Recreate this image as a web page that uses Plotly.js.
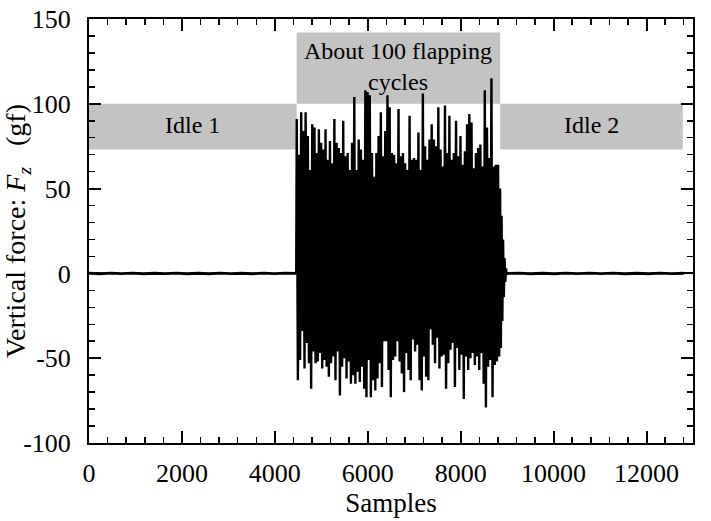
<!DOCTYPE html>
<html>
<head>
<meta charset="utf-8">
<script src="https://cdn.plot.ly/plotly-3.0.1.min.js"></script>
<style>html,body{margin:0;padding:0;background:#fff;}#chart{width:711px;height:521px;}</style>
</head>
<body>
<div id="chart"></div>
<script>
// ---- data ----
const idle1Start = 0, flapStart = 4460, flapEnd = 8840, decayEnd = 9000, idle2End = 12800;
const idle1Values = [0.1, -0.2, 0.2, -0.1, 0.2, -0.2, 0.1, -0.1, 0.2, -0.2, 0.1, -0.2, 0.2, -0.1, 0.1, -0.2, 0.2, -0.1, 0.2, 0];
const idle2Values = [0, 0.2, -0.2, 0.1, -0.2, 0.2, -0.1, 0.2, -0.1, 0.2, -0.2, 0.1, -0.2, 0.2, -0.1, 0.1];
const cycleMax = [91, 70, 95, 84, 95, 81, 61, 88, 86, 71, 85, 77, 73, 85, 67, 78, 65, 91, 77, 74, 71, 90, 69, 71, 61, 77, 104, 61, 79,
  73, 67, 108, 107, 105, 71, 57, 71, 81, 95, 69, 84, 105, 98, 71, 70, 65, 97, 69, 71, 65, 61, 93, 67, 68, 67, 83, 61, 106, 75, 67, 79,
  88, 79, 75, 98, 73, 63, 99, 71, 93, 67, 71, 90, 69, 81, 64, 72, 88, 94, 89, 62, 71, 74, 76, 63, 108, 86, 68, 115, 63, 64, 64];
const cycleMin = [-63, -51, -34, -56, -41, -53, -68, -46, -53, -52, -47, -56, -51, -55, -61, -53, -49, -63, -46, -72, -55, -50, -62, -52, -65, -60, -65, -58, -64, -55,
  -68, -73, -51, -73, -63, -69, -62, -53, -67, -40, -40, -57, -73, -51, -49, -40, -52, -59, -70, -47, -57, -63, -39, -46, -42, -63, -69, -49, -61, -63, -33, -42,
  -53, -38, -56, -49, -48, -68, -53, -45, -41, -67, -44, -57, -48, -74, -49, -57, -50, -47, -54, -49, -57, -47, -65, -79, -55, -51, -73, -54, -52, -49];
const decayMax = [50, 34, 20, 9, 3];
const decayMin = [-44, -28, -14, -5, -1];
const xTicks = [0, 2000, 4000, 6000, 8000, 10000, 12000];
const yTicks = [-100, -50, 0, 50, 100, 150];
const boxLabels = ['Idle 1', 'About 100 flapping<br>cycles', 'Idle 2'];
const boxX0 = [0, 4470, 8850];
const boxX1 = [4470, 8850, 12780];
const boxY0 = [73, 100, 73];
const boxY1 = [100, 142, 100];

// ---- build traces from the arrays ----
const ix1 = [], iy1 = [], ix2 = [], iy2 = [];
idle1Values.forEach((v, i) => { ix1.push(idle1Start + i * (flapStart - idle1Start) / (idle1Values.length - 1)); iy1.push(v); });
idle2Values.forEach((v, i) => { ix2.push(decayEnd + i * (idle2End - decayEnd) / (idle2Values.length - 1)); iy2.push(v); });
const xs = [flapStart], ys = [0];
const n = cycleMax.length;
const per = (flapEnd - flapStart) / n;
for (let i = 0; i < n; i++) {
  xs.push(flapStart + i * per + per * 0.25); ys.push(cycleMax[i]);
  xs.push(flapStart + i * per + per * 0.75); ys.push(cycleMin[i]);
}
const dper = (decayEnd - flapEnd) / decayMax.length;
for (let i = 0; i < decayMax.length; i++) {
  xs.push(flapEnd + i * dper + dper * 0.25); ys.push(decayMax[i]);
  xs.push(flapEnd + i * dper + dper * 0.75); ys.push(decayMin[i]);
}
xs.push(decayEnd); ys.push(0);

const serif = "'Liberation Serif', 'Times New Roman', serif";
const shapes = boxLabels.map((_, i) => ({
  type: 'rect', xref: 'x', yref: 'y', layer: 'below',
  x0: boxX0[i], x1: boxX1[i], y0: boxY0[i], y1: boxY1[i],
  fillcolor: '#c3c3c3', line: {width: 0}
}));
const annotations = boxLabels.map((t, i) => ({
  x: (boxX0[i] + boxX1[i]) / 2, y: (boxY0[i] + boxY1[i]) / 2, xref: 'x', yref: 'y', yshift: 2,
  text: t, showarrow: false, font: {family: serif, size: 24, color: '#000'}
}));

const axisCommon = {
  showline: true, linecolor: '#000', linewidth: 2, mirror: 'allticks',
  ticks: 'inside', ticklen: 12, tickwidth: 2, tickcolor: '#000',
  showgrid: false, zeroline: false,
  tickfont: {family: serif, size: 26, color: '#000'},
  minor: {ticks: 'inside', ticklen: 6, tickwidth: 1.5, tickcolor: '#000', showgrid: false}
};

Plotly.newPlot('chart', [
  {x: ix1, y: iy1, type: 'scatter', mode: 'lines', line: {color: '#000', width: 2.8, simplify: false}, hoverinfo: 'skip'},
  {x: xs, y: ys, type: 'scatter', mode: 'lines', line: {color: '#000', width: 2.4, simplify: false}, hoverinfo: 'skip'},
  {x: ix2, y: iy2, type: 'scatter', mode: 'lines', line: {color: '#000', width: 2.8, simplify: false}, hoverinfo: 'skip'}
], {
  width: 711, height: 521,
  margin: {l: 89, r: 18, t: 19, b: 78},
  paper_bgcolor: '#fff', plot_bgcolor: '#fff',
  showlegend: false,
  font: {family: serif},
  xaxis: Object.assign({}, axisCommon, {
    range: [0, 13000], tickvals: xTicks, ticktext: xTicks.map(String),
    minor: Object.assign({}, axisCommon.minor, {dtick: 400, tick0: 0}),
    ticklabelstandoff: 6,
    title: {text: 'Samples', font: {family: serif, size: 27, color: '#000'}, standoff: 2}
  }),
  yaxis: Object.assign({}, axisCommon, {
    range: [-100, 150], tickvals: yTicks, ticktext: yTicks.map(String),
    minor: Object.assign({}, axisCommon.minor, {dtick: 10, tick0: 0}),
    ticklabelstandoff: 11,
    title: {text: 'Vertical force: <i>F<sub>z</sub></i>&nbsp;&nbsp;&nbsp;(gf)', font: {family: serif, size: 28, color: '#000'}, standoff: 2}
  }),
  shapes: shapes,
  annotations: annotations
}, {staticPlot: true});
</script>
</body>
</html>
